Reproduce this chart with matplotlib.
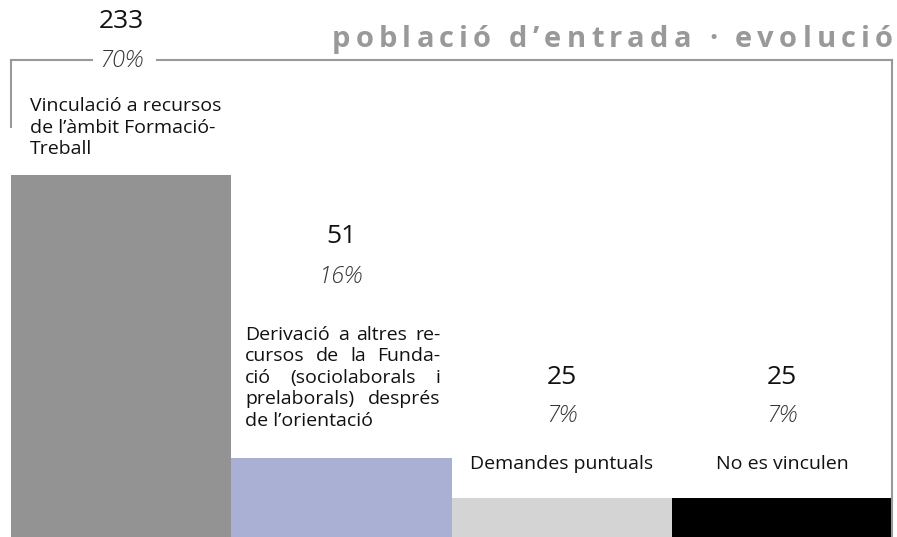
import matplotlib
matplotlib.use('Agg')
import matplotlib.pyplot as plt
from matplotlib.lines import Line2D

W, H = 897, 537
DPI = 100

# data
categories = [
    "Vinculació a recursos\nde l\u2019àmbit Formació-\nTreball",
    "Derivació a altres re-\ncursos de la Funda-\nció (sociolaborals i\nprelaborals) després\nde l\u2019orientació",
    "Demandes puntuals",
    "No es vinculen",
]
counts = [233, 51, 25, 25]
pcts = ["70%", "16%", "7%", "7%"]
colors = ["#939393", "#aab0d4", "#d4d4d4", "#000000"]
title = "població d\u2019entrada · evolució"

plt.rcParams['font.family'] = ['Open Sans', 'DejaVu Sans']

fig = plt.figure(figsize=(W / DPI, H / DPI), dpi=DPI)
ax = fig.add_axes([11 / W, 0, 881 / W, 1])
x = list(range(len(counts)))
bars = ax.bar(x, counts, width=1.0, color=colors, linewidth=0)
ax.set_xlim(-0.5, 3.5)
ax.set_ylim(0, 346)
ax.axis('off')
renderer = fig.canvas.get_renderer()

# label layout, pixels above the bar top
num_y = [154, 221, 121, 121]
pct_y = [114, 181, 82, 82]
desc_base = [21, 32, 29, 29]     # baseline of last desc line
align = ['left', 'justify', 'center', 'center']
dx_left = [19, 14, 0, 0]
just_w = 195
LH = 21.5
txt_kw = dict(fontsize=14, color='#111111')

for i, (c, n, p) in enumerate(zip(categories, counts, pcts)):
    lines = c.split('\n')
    nl = len(lines)
    for k, line in enumerate(lines):
        yb = desc_base[i] + (nl - 1 - k) * LH
        if align[i] == 'center':
            ax.annotate(line, xy=(i, n), xytext=(0, yb), textcoords='offset pixels',
                        ha='center', va='baseline', **txt_kw)
        elif align[i] == 'left' or k == nl - 1:
            ax.annotate(line, xy=(i - 0.5, n), xytext=(dx_left[i], yb),
                        textcoords='offset pixels', ha='left', va='baseline', **txt_kw)
        else:
            # justified line: spread the words over the full width
            words = line.split(' ')
            arts = [ax.annotate(w, xy=(i - 0.5, n), xytext=(0, yb), textcoords='offset pixels',
                                ha='left', va='baseline', **txt_kw) for w in words]
            widths = [a.get_window_extent(renderer).width for a in arts]
            gap = (just_w - sum(widths)) / max(len(words) - 1, 1)
            pos = dx_left[i]
            for a, wd in zip(arts, widths):
                a.xyann = (pos, yb)
                pos += wd + gap
    ax.annotate(p, xy=(i, n), xytext=(0, pct_y[i]), textcoords='offset pixels',
                ha='center', va='center', fontsize=17, color='#333333',
                style='italic', fontweight='light')
    ax.annotate(str(n), xy=(i, n), xytext=(0, num_y[i]), textcoords='offset pixels',
                ha='center', va='center', fontsize=19, color='#111111')

# frame lines
lc = '#999999'
def fline(xs, ys):
    fig.add_artist(Line2D([v / W for v in xs], [1 - v / H for v in ys],
                          color=lc, lw=1.5, transform=fig.transFigure))

fline([11, 92], [60, 60])
fline([157, 892], [60, 60])
fline([11, 11], [60, 127])
fline([892, 892], [60, 537])

# letter-spaced title, laid out char by char between x0 and x1
x0, x1, ybase = 332, 893, 47
tfs = 21
tkw = dict(fontsize=tfs, fontweight='bold', color='#999999', ha='left', va='baseline')
chars = []
for ch in title:
    t = fig.text(0, 0, ch, **tkw)
    w = t.get_window_extent(renderer).width if ch != ' ' else tfs * DPI / 72 * 0.26
    chars.append((t, w))
track = (x1 - x0 - sum(w for _, w in chars)) / (len(chars) - 1)
pos = x0
for t, w in chars:
    t.set_position((pos / W, 1 - ybase / H))
    pos += w + track

fig.savefig('out.png', dpi=DPI, facecolor='white')
